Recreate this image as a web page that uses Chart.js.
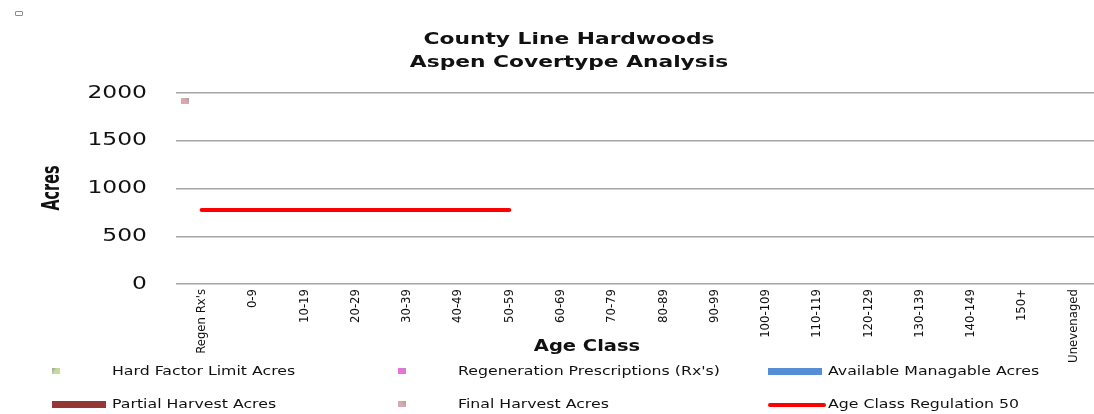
<!DOCTYPE html>
<html>
<head>
<meta charset="utf-8">
<title>County Line Hardwoods - Aspen Covertype Analysis</title>
<script src="https://cdn.jsdelivr.net/npm/chart.js@4.4.1/dist/chart.umd.min.js"></script>
<style>
  html, body { margin: 0; padding: 0; background: #fff; overflow: hidden; }
  #wrap { position: relative; width: 1104px; height: 414px; }
  #corner { position: absolute; left: 15px; top: 11px; width: 6px; height: 3px; border: 1px solid #8c8c8c; border-radius: 1px; }
</style>
</head>
<body>
<div id="wrap">
  <canvas id="chart" width="1104" height="414"></canvas>
  <div id="corner"></div>
</div>
<script>
// data
const categories = ["Regen Rx's", '0-9', '10-19', '20-29', '30-39', '40-49', '50-59', '60-69', '70-79',
  '80-89', '90-99', '100-109', '110-119', '120-129', '130-139', '140-149', '150+', 'Unevenaged'];
const hardFactorAcres   = [null, null, null, null, null, null, null, null, null, null, null, null, null, null, null, null, null, null];
const regenRxAcres      = [null, null, null, null, null, null, null, null, null, null, null, null, null, null, null, null, null, null];
const availableAcres    = [null, null, null, null, null, null, null, null, null, null, null, null, null, null, null, null, null, null];
const partialHarvest    = [null, null, null, null, null, null, null, null, null, null, null, null, null, null, null, null, null, null];
const finalHarvest      = [1920, null, null, null, null, null, null, null, null, null, null, null, null, null, null, null, null, null];
const ageClassReg50     = [775, 775, 775, 775, 775, 775, 775, null, null, null, null, null, null, null, null, null, null, null];
const yTicks = [0, 500, 1000, 1500, 2000];

// style bits
const markerOffset = -0.33;   // cluster offset of the marker series inside a category
const textColor = '#111';

function swatch(base, grey, dir){
  const c = document.createElement('canvas');
  c.width = 8; c.height = 6;
  const g = c.getContext('2d');
  const gr = dir === 'tl' ? g.createLinearGradient(0, 0, 8, 6) : g.createLinearGradient(8, 0, 0, 6);
  gr.addColorStop(0, grey);
  gr.addColorStop(0.45, base);
  gr.addColorStop(1, base);
  g.fillStyle = gr;
  g.fillRect(0, 0, 8, 6);
  return c;
}
const hardSwatch  = swatch('#c3dc9c', '#9a9a9a', 'tl');
const regenSwatch = swatch('#ea72dc', '#a0a0a0', 'tr');
const finalSwatch = swatch('#d8aab0', '#a0a0a0', 'tr');

function toPoints(arr){
  return arr.map((v, i) => v === null ? null : { x: i + markerOffset, y: v }).filter(p => p);
}

// reference text is wider than any installed font, so stretch it sideways
function stretched(ctx, text, x, y, font, align, sx){
  ctx.save();
  ctx.font = font;
  ctx.fillStyle = textColor;
  ctx.textBaseline = 'middle';
  ctx.textAlign = align;
  ctx.translate(x, y);
  ctx.scale(sx, 1);
  ctx.fillText(text, 0, 0);
  ctx.restore();
}

// titles, y tick labels and legend drawn by hand so they sit where the reference has them
const textLayer = {
  id: 'textLayer',
  afterDraw(chart){
    const ctx = chart.ctx;
    const y = chart.scales.y;

    stretched(ctx, 'County Line Hardwoods', 569, 40, 'bold 16px "DejaVu Sans"', 'center', 1.36);
    stretched(ctx, 'Aspen Covertype Analysis', 569, 63, 'bold 16px "DejaVu Sans"', 'center', 1.36);

    yTicks.forEach(v => stretched(ctx, String(v), 147, y.getPixelForValue(v), '18px "DejaVu Sans"', 'right', 1.3));

    stretched(ctx, 'Age Class', 587, 347, 'bold 15px "DejaVu Sans"', 'center', 1.3);

    ctx.save();
    ctx.translate(53, 188);
    ctx.scale(1.5, 1);
    ctx.rotate(-Math.PI / 2);
    ctx.font = 'bold 16px "DejaVu Sans Condensed", "DejaVu Sans", sans-serif';
    ctx.fillStyle = textColor;
    ctx.textAlign = 'center';
    ctx.textBaseline = 'middle';
    ctx.fillText('Acres', 0, 0);
    ctx.restore();

    // legend, 3 columns x 2 rows
    const cols = [52, 398, 768];
    const rows = [372, 405];
    chart.data.datasets.forEach((ds, i) => {
      const x = cols[i % 3], cy = rows[Math.floor(i / 3)];
      ctx.save();
      if (ds.legendKind === 'swatch') {
        ctx.drawImage(ds.pointStyle, x, cy - 4);
      } else if (ds.legendKind === 'bar') {
        ctx.fillStyle = ds.backgroundColor;
        ctx.fillRect(x, cy - 4, 54, 7);
      } else {
        ctx.strokeStyle = ds.borderColor;
        ctx.lineWidth = 4;
        ctx.lineCap = 'round';
        ctx.beginPath();
        ctx.moveTo(x + 2, cy);
        ctx.lineTo(x + 56, cy);
        ctx.stroke();
      }
      ctx.restore();
      stretched(ctx, ds.label, x + 60, cy, '11.5px "DejaVu Sans"', 'left', 1.37);
    });
  }
};

const chart = new Chart(document.getElementById('chart'), {
  type: 'bar',
  data: {
    labels: categories,
    datasets: [
      { type: 'line', label: 'Hard Factor Limit Acres', xAxisID: 'xPt', data: toPoints(hardFactorAcres),
        showLine: false, pointStyle: hardSwatch, legendKind: 'swatch' },
      { type: 'line', label: "Regeneration Prescriptions (Rx's)", xAxisID: 'xPt', data: toPoints(regenRxAcres),
        showLine: false, pointStyle: regenSwatch, legendKind: 'swatch' },
      { label: 'Available Managable Acres', data: availableAcres, backgroundColor: '#558ed5', legendKind: 'bar' },
      { label: 'Partial Harvest Acres', data: partialHarvest, backgroundColor: '#953735', legendKind: 'bar' },
      { type: 'line', label: 'Final Harvest Acres', xAxisID: 'xPt', data: toPoints(finalHarvest),
        showLine: false, pointStyle: finalSwatch, legendKind: 'swatch' },
      { type: 'line', label: 'Age Class Regulation 50', data: ageClassReg50, borderColor: '#ff0000',
        borderWidth: 4, borderCapStyle: 'round', pointRadius: 0, spanGaps: false, legendKind: 'line' }
    ]
  },
  options: {
    responsive: false,
    animation: false,
    layout: { padding: { top: 93, right: 1, left: 0, bottom: 0 } },
    plugins: { legend: { display: false }, title: { display: false }, tooltip: { enabled: false } },
    scales: {
      x: {
        offset: true,
        grid: { display: false, drawTicks: false },
        border: { display: false },
        ticks: {
          autoSkip: false, minRotation: 90, maxRotation: 90, padding: 5, color: textColor,
          font: { family: '"Liberation Sans Narrow", "DejaVu Sans Condensed", sans-serif', size: 13 }
        },
        afterFit(scale){ scale.height = 130; }
      },
      xPt: {
        type: 'linear', display: false, offset: false,
        grid: { offset: false },
        min: -0.5, max: categories.length - 0.5
      },
      y: {
        min: 0, max: 2000,
        afterBuildTicks(scale){ scale.ticks = yTicks.map(v => ({ value: v })); },
        grid: { color: '#a6a6a6', lineWidth: 1.5, drawTicks: false },
        border: { display: false },
        ticks: { display: false },
        afterFit(scale){ scale.width = 176; }
      }
    }
  },
  plugins: [textLayer]
});
</script>
</body>
</html>
